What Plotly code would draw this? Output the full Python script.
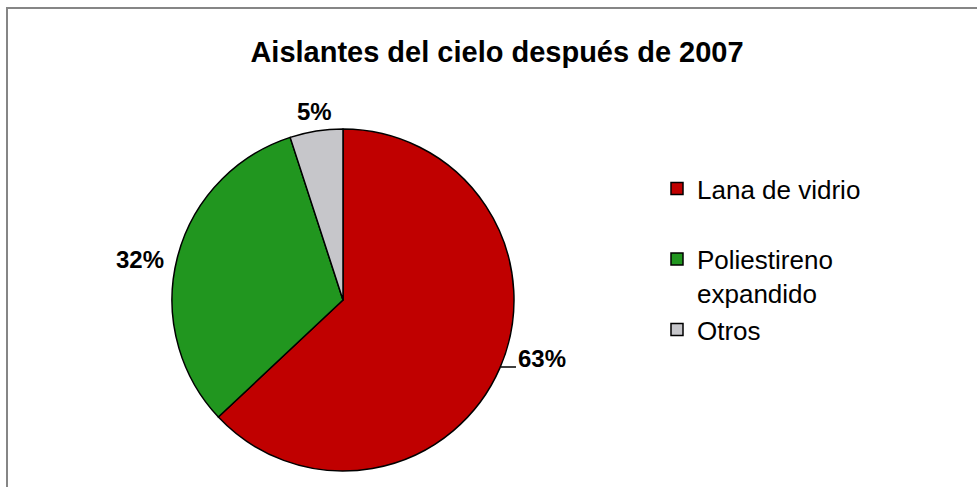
import plotly.graph_objects as go

# Ceiling insulation materials used after 2007 (share of total, %)
materials = ["Lana de vidrio", "Poliestireno expandido", "Otros"]
shares = [63, 32, 5]
slice_colors = ["#C00000", "#21961F", "#C6C6CA"]

# legend wording (line breaks as laid out in the legend box)
legend_text = ["Lana de vidrio<br> ", "Poliestireno<br>expandido", "Otros"]

W, H = 977, 487
FONT = "Liberation Sans, Arial, sans-serif"

# pie placement in pixels (centre and radius), converted to paper fractions
cx, cy, r = 343, 300, 171

# percentage label centres (pixels) for each slice
label_pos = [(542, 358), (140, 259), (314, 111)]


def px(x):
    return x / W


def py(y):
    return 1 - y / H


fig = go.Figure(
    go.Pie(
        labels=legend_text,
        values=shares,
        sort=False,
        direction="clockwise",
        rotation=0,
        marker=dict(colors=slice_colors, line=dict(color="#000000", width=1.5)),
        textinfo="none",
        automargin=False,
        domain=dict(
            x=[px(cx - r), px(cx + r)],
            y=[py(cy + r), py(cy - r)],
        ),
        customdata=materials,
        hovertemplate="%{customdata}: %{value}%<extra></extra>",
    )
)

total = sum(shares)
annotations = []
for v, (lx, ly) in zip(shares, label_pos):
    annotations.append(
        dict(
            x=px(lx),
            y=py(ly),
            xref="paper",
            yref="paper",
            xanchor="center",
            yanchor="middle",
            text=f"<b>{round(100 * v / total)}%</b>",
            showarrow=False,
            font=dict(family=FONT, size=24, color="#000000"),
        )
    )

fig.update_layout(
    width=W,
    height=H,
    margin=dict(l=0, r=0, t=0, b=0),
    paper_bgcolor="#FFFFFF",
    plot_bgcolor="#FFFFFF",
    title=dict(
        text="<b>Aislantes del cielo después de 2007</b>",
        font=dict(family=FONT, size=29, color="#000000"),
        x=px(497),
        xanchor="center",
        y=py(52),
        yanchor="middle",
    ),
    showlegend=True,
    legend=dict(
        x=px(657),
        xanchor="left",
        y=py(165),
        yanchor="top",
        font=dict(family=FONT, size=26, color="#000000"),
        bgcolor="rgba(0,0,0,0)",
        itemclick=False,
        itemdoubleclick=False,
        valign="top",
    ),
    annotations=annotations,
    shapes=[
        # chart frame: top and left edges
        dict(
            type="path",
            xref="paper",
            yref="paper",
            path=f"M {px(7)},0 L {px(7)},{py(8)} L 1,{py(8)}",
            line=dict(color="#868686", width=2),
        ),
        # leader line from the large slice to its label
        dict(
            type="line",
            xref="paper",
            yref="paper",
            x0=px(501),
            y0=py(367),
            x1=px(516),
            y1=py(367),
            line=dict(color="#000000", width=1.5),
        ),
    ],
)

fig.write_html("out.html")
